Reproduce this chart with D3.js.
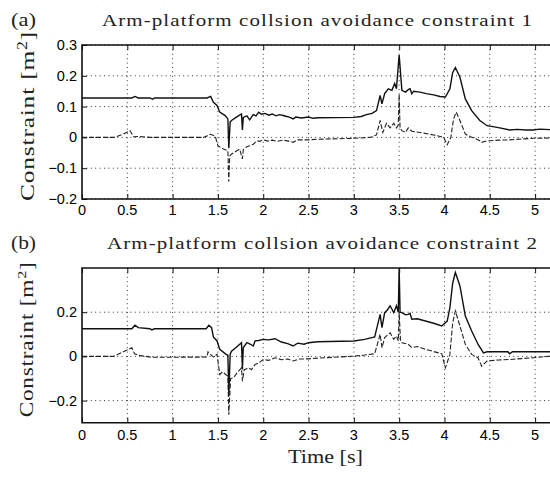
<!DOCTYPE html>
<html>
<head>
<meta charset="utf-8">
<script src="https://cdn.jsdelivr.net/npm/d3@7"></script>
<style>
  body { margin: 0; background: #fff; }
  .tick-label { font-family: "Liberation Sans", Arial, sans-serif; font-size: 14.5px; fill: #000; }
  .serif { font-family: "Liberation Serif", "Times New Roman", serif; fill: #222; }
  .grid { stroke: #333; stroke-width: 1; stroke-dasharray: 1 3.4; fill: none; }
  .border { stroke: #111; stroke-width: 1.6; fill: none; }
  .solid { stroke: #111; stroke-width: 1.4; fill: none; }
  .dashed { stroke: #222; stroke-width: 1.1; stroke-dasharray: 5 2; fill: none; }
</style>
</head>
<body>
<div id="chart"></div>
<script>
// 1. Data (time [s], constraint [m^2])

const timeTicks = [0, 0.5, 1, 1.5, 2, 2.5, 3, 3.5, 4, 4.5, 5]
const yTicksA = [-0.2, -0.1, 0, 0.1, 0.2, 0.3]
const yTicksB = [-0.2, 0, 0.2]

const solidA = [
  [0,0.128],[0.55,0.128],[0.585,0.133],[0.62,0.128],[0.75,0.128],[0.78,0.124],[0.8,0.128],
  [1.38,0.128],[1.42,0.133],[1.45,0.114],[1.49,0.104],[1.52,0.082],[1.58,0.071],[1.61,0.06],
  [1.62,-0.035],[1.635,0.05],[1.65,0.055],[1.7,0.065],[1.76,0.076],[1.77,0.024],[1.78,0.065],
  [1.82,0.07],[1.85,0.057],[1.89,0.074],[1.92,0.07],[1.95,0.082],[1.98,0.075],[2.02,0.078],
  [2.06,0.072],[2.1,0.076],[2.14,0.07],[2.18,0.074],[2.22,0.071],[2.26,0.068],[2.3,0.064],
  [2.33,0.06],[2.36,0.066],[2.42,0.063],[2.5,0.066],[2.55,0.062],[2.6,0.064],[3.0,0.065],
  [3.08,0.068],[3.14,0.074],[3.2,0.078],[3.25,0.087],[3.29,0.136],[3.31,0.109],[3.34,0.142],
  [3.38,0.158],[3.42,0.153],[3.45,0.175],[3.47,0.158],[3.5,0.267],[3.53,0.153],[3.57,0.147],
  [3.6,0.155],[3.62,0.158],[3.64,0.142],[3.66,0.15],[3.73,0.147],[3.8,0.142],[3.88,0.138],
  [3.95,0.133],[4.01,0.131],[4.06,0.158],[4.09,0.21],[4.12,0.227],[4.17,0.196],[4.23,0.125],
  [4.3,0.087],[4.39,0.055],[4.47,0.038],[4.55,0.034],[4.61,0.031],[4.72,0.024],[4.8,0.026],
  [4.9,0.024],[4.98,0.024],[5.05,0.027],[5.17,0.025]
]

const dashedA = [
  [0,0],[0.36,0],[0.45,0.01],[0.53,0.022],[0.57,0.002],[0.62,0.003],[0.75,0],[1.34,0],
  [1.42,0.01],[1.47,0.004],[1.5,-0.027],[1.56,-0.038],[1.61,-0.043],[1.62,-0.144],[1.63,-0.06],
  [1.65,-0.054],[1.7,-0.045],[1.74,-0.038],[1.77,-0.07],[1.78,-0.04],[1.82,-0.03],[1.85,-0.027],
  [1.89,-0.022],[1.93,-0.011],[1.96,-0.013],[2.0,-0.008],[2.05,-0.012],[2.1,-0.009],[2.15,-0.013],
  [2.22,-0.009],[2.28,-0.012],[2.33,-0.016],[2.38,-0.008],[2.5,-0.008],[2.6,-0.006],[3.0,-0.003],
  [3.18,0],[3.25,0.008],[3.29,0.055],[3.32,0.016],[3.36,0.046],[3.4,0.031],[3.44,0.046],
  [3.47,0.031],[3.49,0.04],[3.5,0.14],[3.51,0.03],[3.53,0.022],[3.57,0.016],[3.6,0.031],
  [3.64,0.02],[3.73,0.016],[3.88,0.008],[3.99,0],[4.03,-0.024],[4.07,0],[4.1,0.06],[4.13,0.082],
  [4.17,0.055],[4.23,0.011],[4.28,0.003],[4.35,-0.005],[4.39,-0.011],[4.41,-0.016],[4.47,-0.011],
  [4.6,-0.009],[4.72,-0.008],[4.85,-0.005],[4.98,-0.003],[5.17,-0.002]
]

const solidB = [
  [0,0.125],[0.55,0.125],[0.585,0.141],[0.62,0.13],[0.75,0.125],[0.77,0.12],[0.8,0.125],
  [1.37,0.125],[1.4,0.141],[1.43,0.13],[1.45,0.088],[1.49,0.07],[1.52,0.032],[1.59,0.009],
  [1.61,0.005],[1.62,-0.18],[1.635,0.01],[1.65,0.024],[1.7,0.04],[1.76,0.062],[1.77,-0.059],
  [1.78,0.04],[1.82,0.062],[1.86,0.055],[1.89,0.047],[1.91,0.07],[1.95,0.072],[2.0,0.077],
  [2.06,0.075],[2.13,0.08],[2.2,0.065],[2.27,0.058],[2.33,0.047],[2.38,0.06],[2.45,0.055],
  [2.5,0.062],[2.6,0.066],[3.0,0.07],[3.12,0.077],[3.23,0.088],[3.29,0.19],[3.31,0.13],
  [3.34,0.198],[3.37,0.21],[3.4,0.229],[3.44,0.198],[3.47,0.229],[3.49,0.2],[3.5,0.398],
  [3.51,0.2],[3.53,0.198],[3.57,0.188],[3.6,0.19],[3.62,0.195],[3.64,0.168],[3.7,0.17],
  [3.79,0.16],[3.88,0.15],[3.97,0.138],[4.03,0.16],[4.06,0.221],[4.09,0.33],[4.12,0.38],
  [4.17,0.32],[4.23,0.183],[4.3,0.115],[4.37,0.055],[4.43,0.016],[4.47,0.021],[4.6,0.021],
  [4.7,0.021],[4.72,0.012],[4.75,0.021],[5.17,0.021]
]

const dashedB = [
  [0,0],[0.35,0],[0.45,0.02],[0.55,0.039],[0.58,0.012],[0.62,0.005],[0.77,-0.004],[1.38,-0.003],
  [1.39,0.021],[1.45,-0.003],[1.49,0.01],[1.52,-0.082],[1.55,-0.07],[1.61,-0.09],[1.62,-0.264],
  [1.64,-0.1],[1.67,-0.097],[1.72,-0.07],[1.76,-0.052],[1.77,-0.112],[1.79,-0.06],[1.84,-0.052],
  [1.87,-0.06],[1.91,-0.036],[1.95,-0.03],[2.0,-0.014],[2.06,-0.018],[2.13,-0.006],[2.2,-0.015],
  [2.27,-0.012],[2.33,-0.021],[2.4,-0.012],[2.5,-0.011],[2.6,-0.008],[3.0,0.001],[3.12,0.006],
  [3.23,0.012],[3.29,0.1],[3.31,0.039],[3.34,0.085],[3.4,0.107],[3.44,0.077],[3.47,0.092],
  [3.49,0.07],[3.5,0.198],[3.515,0.07],[3.53,0.062],[3.6,0.055],[3.64,0.039],[3.7,0.045],
  [3.79,0.032],[3.88,0.022],[3.97,0.012],[4.01,-0.052],[4.06,0.009],[4.09,0.15],[4.12,0.206],
  [4.17,0.138],[4.23,0.055],[4.3,0.009],[4.37,-0.006],[4.41,-0.044],[4.47,-0.021],[4.6,-0.016],
  [4.72,-0.014],[4.85,-0.01],[4.98,-0.006],[5.17,0.001]
]

// 2. Dimensions

const width = 550
const height = 477
const plotLeft = 82
const plotRight = 550.5

const svg = d3.select("#chart")
  .append("svg")
    .attr("width", width)
    .attr("height", height)

const xScale = d3.scaleLinear()
  .domain([0, 5.17])
  .range([plotLeft, plotRight])

const fmt = d => d3.format("")(d).replace("-", "\u2212")

// 3. One panel

function drawPanel({ id, tag, title, titleX, titleLen, top, bottom, yDomain, yTicks,
                     labelX, labelSize, labelLen, xLabelY, solid, dashed }) {
  const yScale = d3.scaleLinear()
    .domain(yDomain)
    .range([bottom, top])

  const g = svg.append("g")

  g.append("clipPath")
      .attr("id", "clip-" + id)
    .append("rect")
      .attr("x", plotLeft)
      .attr("y", top)
      .attr("width", plotRight - plotLeft)
      .attr("height", bottom - top)

  // grid
  g.selectAll(".gx")
    .data(timeTicks.filter(t => t > 0))
    .join("line")
      .attr("class", "grid")
      .attr("x1", d => xScale(d))
      .attr("x2", d => xScale(d))
      .attr("y1", top)
      .attr("y2", bottom)

  g.selectAll(".gy")
    .data(yTicks)
    .join("line")
      .attr("class", "grid")
      .attr("x1", plotLeft)
      .attr("x2", plotRight)
      .attr("y1", d => yScale(d))
      .attr("y2", d => yScale(d))

  // inward ticks
  g.append("g")
      .attr("transform", `translate(0,${bottom})`)
      .call(d3.axisTop(xScale).tickValues(timeTicks).tickSize(5).tickFormat(""))
      .call(a => a.select(".domain").remove())
  g.append("g")
      .attr("transform", `translate(0,${top})`)
      .call(d3.axisBottom(xScale).tickValues(timeTicks).tickSize(5).tickFormat(""))
      .call(a => a.select(".domain").remove())
  g.append("g")
      .attr("transform", `translate(${plotLeft},0)`)
      .call(d3.axisRight(yScale).tickValues(yTicks).tickSize(5).tickFormat(""))
      .call(a => a.select(".domain").remove())
  g.selectAll(".tick line").attr("stroke", "#111")

  // tick labels
  g.selectAll(".xl")
    .data(timeTicks)
    .join("text")
      .attr("class", "tick-label")
      .attr("x", d => xScale(d))
      .attr("y", xLabelY)
      .attr("text-anchor", "middle")
      .text(d => d)

  g.selectAll(".yl")
    .data(yTicks)
    .join("text")
      .attr("class", "tick-label")
      .attr("x", plotLeft - 5)
      .attr("y", d => yScale(d) + 5)
      .attr("text-anchor", "end")
      .text(fmt)

  // lines
  const line = d3.line()
    .x(d => xScale(d[0]))
    .y(d => yScale(d[1]))

  g.append("path")
      .datum(dashed)
      .attr("class", "dashed")
      .attr("clip-path", `url(#clip-${id})`)
      .attr("d", line)

  g.append("path")
      .datum(solid)
      .attr("class", "solid")
      .attr("clip-path", `url(#clip-${id})`)
      .attr("d", line)

  // border (right side is cut off in the original)
  g.append("path")
      .attr("class", "border")
      .attr("d", `M${plotRight + 2},${top}H${plotLeft}V${bottom}H${plotRight + 2}`)

  // titles
  g.append("text")
      .attr("class", "serif")
      .attr("x", 11)
      .attr("y", top - 19)
      .attr("textLength", 25)
      .attr("lengthAdjust", "spacingAndGlyphs")
      .style("font-size", "19px")
      .text(tag)

  g.append("text")
      .attr("class", "serif")
      .attr("x", titleX)
      .attr("y", top - 19)
      .attr("textLength", titleLen)
      .attr("lengthAdjust", "spacingAndGlyphs")
      .style("letter-spacing", "0.9px")
      .style("font-size", "17.5px")
      .text(title)

  const yl = g.append("text")
      .attr("class", "serif")
      .attr("transform", `translate(${labelX},${(top + bottom) / 2 - 6}) rotate(-90)`)
      .attr("text-anchor", "middle")
      .attr("textLength", labelLen)
      .attr("lengthAdjust", "spacingAndGlyphs")
      .style("letter-spacing", "0.6px")
      .style("font-size", labelSize + "px")
  yl.append("tspan").text("Constraint [m")
  yl.append("tspan").attr("dy", -7).style("font-size", (labelSize * 0.7) + "px").text("2")
  yl.append("tspan").attr("dy", 7).text("]")
}

drawPanel({
  id: "a", tag: "(a)", title: "Arm-platform collsion avoidance constraint 1",
  titleX: 102, titleLen: 431, top: 45, bottom: 199,
  yDomain: [-0.2, 0.3], yTicks: yTicksA,
  labelX: 34, labelSize: 19.5, labelLen: 170, xLabelY: 215,
  solid: solidA, dashed: dashedA
})

drawPanel({
  id: "b", tag: "(b)", title: "Arm-platform collsion avoidance constraint 2",
  titleX: 107, titleLen: 431, top: 268, bottom: 422.7,
  yDomain: [-0.3, 0.4], yTicks: yTicksB,
  labelX: 33, labelSize: 18.5, labelLen: 156, xLabelY: 440,
  solid: solidB, dashed: dashedB
})

// 4. x-axis label

svg.append("text")
    .attr("class", "serif")
    .attr("x", 325.5)
    .attr("y", 463)
    .attr("text-anchor", "middle")
    .attr("textLength", 75)
    .attr("lengthAdjust", "spacingAndGlyphs")
    .style("font-size", "19.5px")
    .text("Time [s]")
</script>
</body>
</html>
